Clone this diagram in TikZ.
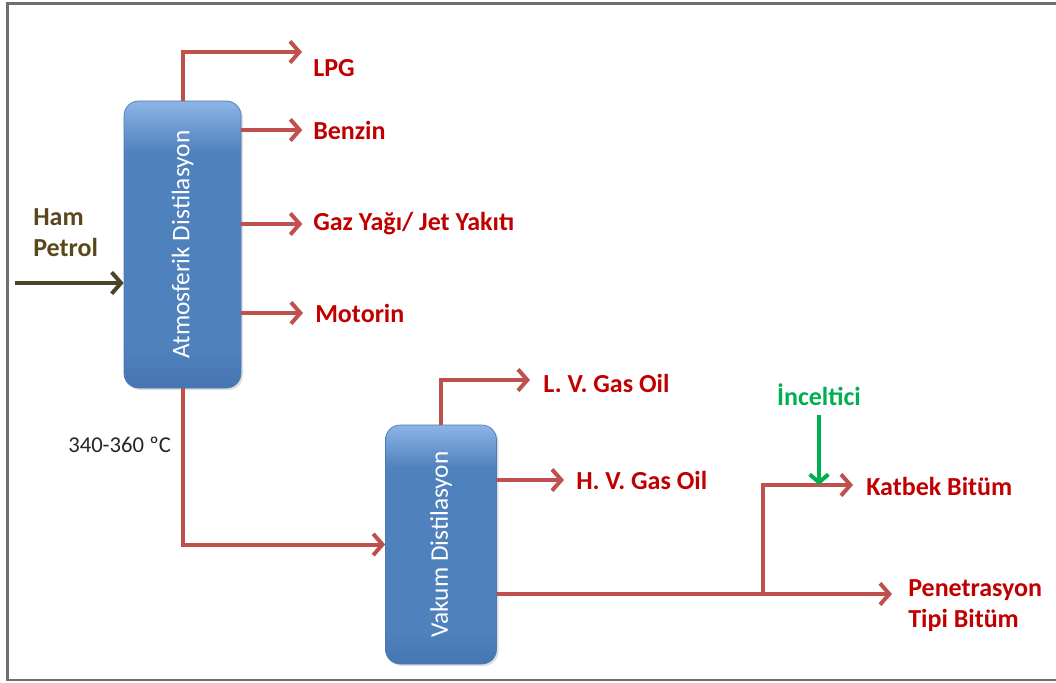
\documentclass[tikz,border=0pt]{standalone}
\usepackage{fontspec}
\setmainfont{Carlito}
\usetikzlibrary{arrows.meta,shadows}
\definecolor{flowred}{HTML}{C0504D}
\definecolor{labelred}{HTML}{C00000}
\definecolor{feedbrown}{HTML}{4A452A}
\definecolor{feedtext}{HTML}{5A481C}
\definecolor{thinner}{HTML}{00B050}
\definecolor{boxtop}{HTML}{8DB4E6}
\definecolor{boxmid}{HTML}{4F81BD}
\definecolor{boxbot}{HTML}{4676B2}
\definecolor{boxedge}{HTML}{4A7AB5}
\definecolor{frame}{HTML}{6F6F6F}
% column body: flat blue with a light band along the top
\pgfdeclareverticalshading{columnshade}{100bp}{
  color(0bp)=(boxbot); color(25bp)=(boxbot); color(32bp)=(boxmid);
  color(66bp)=(boxmid); color(75bp)=(boxtop); color(100bp)=(boxtop)}
\tikzset{
  column/.style={rectangle, rounded corners=11pt, shading=columnshade,
    draw=boxedge, line width=0.5pt,
    drop shadow={opacity=0.25, shadow xshift=1.5pt, shadow yshift=-1.5pt}},
  coltext/.style={text=white, font=\fontsize{19}{22}\selectfont, rotate=90},
  product/.style={text=labelred, font=\bfseries\fontsize{19.5}{23.3}\selectfont, inner sep=0pt, anchor=west, align=left},
  flow/.style={draw=flowred, line width=3pt, -{Straight Barb[length=7pt,width=16pt]}},
}
\begin{document}
\begin{tikzpicture}[x=0.75pt, y=-0.75pt]
  \useasboundingbox (0,0) rectangle (1056,682);
  % page frame
  \draw[frame, line width=1.6pt] (1056,3.5) -- (7.5,3.5) -- (7.5,680) -- (1056,680);

  % distillation columns
  \node[column, minimum width=117*0.75pt, minimum height=287*0.75pt] (atm) at (182.5,244.5) {};
  \node[coltext] at (atm.center) {Atmosferik Distilasyon};
  \node[column, minimum width=111*0.75pt, minimum height=239*0.75pt] (vak) at (441,544.5) {};
  \node[coltext] at (vak.center) {Vakum Distilasyon};

  % product labels
  \node[product] (lpg) at (313,68) {LPG};
  \node[product] (benzin) at (313,130) {Benzin};
  \node[product] (gaz) at (313,224) {Gaz Yağı/ Jet Yakıtı};
  \node[product] (motorin) at (315,313) {Motorin};
  \node[product] (lvgo) at (543,383) {L. V. Gas Oil};
  \node[product] (hvgo) at (576,480) {H. V. Gas Oil};
  \node[product] (katbek) at (866,486) {Katbek Bitüm};
  \node[product] (pen) at (908,606) {Penetrasyon\\Tipi Bitüm};
  \node[text=thinner, font=\bfseries\fontsize{19.5}{23.3}\selectfont, inner sep=0pt] (incel) at (819,395) {İnceltici};
  \node[text=feedtext, font=\bfseries\fontsize{19.5}{23.3}\selectfont, inner sep=0pt, anchor=west, align=left] (ham) at (33,232.5) {Ham\\Petrol};
  \node[text=black!85, font=\fontsize{17}{20}\selectfont, inner sep=0pt, anchor=west] (temp) at (68,445) {340-360 ºC};

  % free arrow ends and junctions
  \coordinate (lpgend) at (302,52);
  \coordinate (lvgoend) at (530,380);
  \coordinate (feed) at (15,283);
  \coordinate (split) at (763,594);
  \coordinate (katbekend) at (853,485);
  \coordinate (penend) at (892,594);
  \coordinate (dose) at (819,415);

  % crude feed
  \draw[draw=feedbrown, line width=3pt, -{Straight Barb[length=7pt,width=16pt]}] (feed) -- (atm.west |- feed);

  % atmospheric column products
  \draw[flow] (atm.north) |- (lpgend);
  \draw[flow] (atm.east |- benzin.west) -- ([xshift=-8pt]benzin.west);
  \draw[flow] (atm.east |- gaz.west) -- ([xshift=-8pt]gaz.west);
  \draw[flow] (atm.east |- motorin.west) -- ([xshift=-9pt]motorin.west);

  % residue to vacuum column
  \draw[flow] (atm.south) |- (vak.west);

  % vacuum column products
  \draw[flow] (vak.north) |- (lvgoend);
  \draw[flow] (vak.east |- hvgo.west) -- ([xshift=-9pt]hvgo.west);
  \draw[flow] (vak.east |- split) -- (penend);
  \draw[flow] (split) |- (katbekend);

  % thinner dosing
  \draw[draw=thinner, line width=3pt, -{Straight Barb[length=6pt,width=14pt]}] (dose) -- (dose |- katbekend);
\end{tikzpicture}
\end{document}
